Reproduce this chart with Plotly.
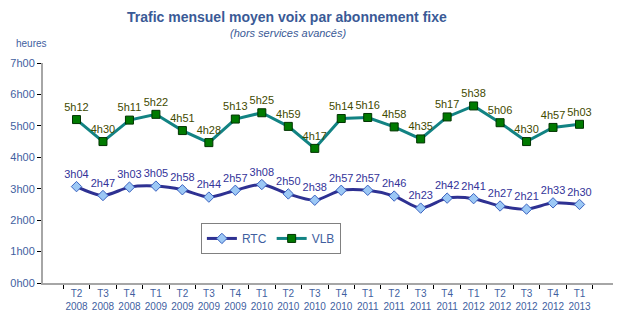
import plotly.graph_objects as go

# Quarters (trimestres)
quarters = ["T2 2008", "T3 2008", "T4 2008", "T1 2009", "T2 2009", "T3 2009", "T4 2009",
            "T1 2010", "T2 2010", "T3 2010", "T4 2010", "T1 2011", "T2 2011", "T3 2011",
            "T4 2011", "T1 2012", "T2 2012", "T3 2012", "T4 2012", "T1 2013"]

# Average monthly voice traffic, in minutes
rtc_minutes = [184, 167, 183, 185, 178, 164, 177, 188, 170, 158,
               177, 177, 166, 143, 162, 161, 147, 141, 153, 150]
vlb_minutes = [312, 270, 311, 322, 291, 268, 313, 325, 299, 257,
               314, 316, 298, 275, 317, 338, 306, 270, 297, 303]

y_ticks_hours = [0, 1, 2, 3, 4, 5, 6, 7]


def fmt(m):
    return f"{m // 60}h{m % 60:02d}"


x_labels = [q.replace(" ", "<br>") for q in quarters]
font_family = "Liberation Sans, Arial, sans-serif"

fig = go.Figure()

fig.add_trace(go.Scatter(
    x=x_labels, y=[m / 60 for m in rtc_minutes], name="RTC",
    mode="lines+markers+text",
    line=dict(color="#2E3192", width=3, shape="spline", smoothing=0.8),
    marker=dict(symbol="diamond", size=8, color="#9CC8F5",
                line=dict(color="#3A62C0", width=1)),
    text=[fmt(m) for m in rtc_minutes], textposition="top center",
    textfont=dict(color="#333399", size=11, family=font_family),
    cliponaxis=False,
))

fig.add_trace(go.Scatter(
    x=x_labels, y=[m / 60 for m in vlb_minutes], name="VLB",
    mode="lines+markers+text",
    line=dict(color="#128383", width=3),
    marker=dict(symbol="square", size=8, color="#007A00",
                line=dict(color="#003300", width=1)),
    text=[fmt(m) for m in vlb_minutes], textposition="top center",
    textfont=dict(color="#3F4A00", size=11, family=font_family),
    cliponaxis=False,
))

fig.update_layout(
    width=625, height=322,
    margin=dict(l=43, r=12, t=63, b=39),
    paper_bgcolor="white", plot_bgcolor="white",
    font=dict(family=font_family, size=11, color="#3F5F9F"),
    showlegend=True,
    legend=dict(
        orientation="h", x=0.277, y=0.273, xanchor="left", yanchor="top",
        bordercolor="#808080", borderwidth=1, bgcolor="white",
        font=dict(size=12, color="#3F5F9F"),
        itemwidth=30,
    ),
    xaxis=dict(
        type="category", tickson="boundaries", ticks="outside", ticklen=4,
        tickcolor="#000000", showline=True, linecolor="#A6A6A6", linewidth=2,
        showgrid=False, tickangle=0, automargin=False,
        tickfont=dict(size=10, color="#3F5F9F"),
    ),
    yaxis=dict(
        range=[0, 7], tickvals=y_ticks_hours,
        ticktext=[f"{h}h00" for h in y_ticks_hours],
        ticks="outside", ticklen=4, tickcolor="#000000",
        showline=True, linecolor="#A6A6A6", linewidth=2,
        showgrid=False, zeroline=False, automargin=False,
        tickfont=dict(size=11, color="#3F5F9F"),
    ),
    annotations=[
        dict(text="<b>Trafic mensuel moyen voix par abonnement fixe</b>",
             xref="paper", yref="paper", x=(287 - 43) / 570, y=(283 - 17) / 220,
             xanchor="center", yanchor="middle", showarrow=False,
             font=dict(size=14, color="#3A5A96")),
        dict(text="<i>(hors services avancés)</i>",
             xref="paper", yref="paper", x=(288 - 43) / 570, y=(283 - 33) / 220,
             xanchor="center", yanchor="middle", showarrow=False,
             font=dict(size=11, color="#3A5A96")),
        dict(text="heures",
             xref="paper", yref="paper", x=(31 - 43) / 570, y=(283 - 44) / 220,
             xanchor="center", yanchor="middle", showarrow=False,
             font=dict(size=10, color="#3F5F9F")),
    ],
)

fig.write_html("out.html")
